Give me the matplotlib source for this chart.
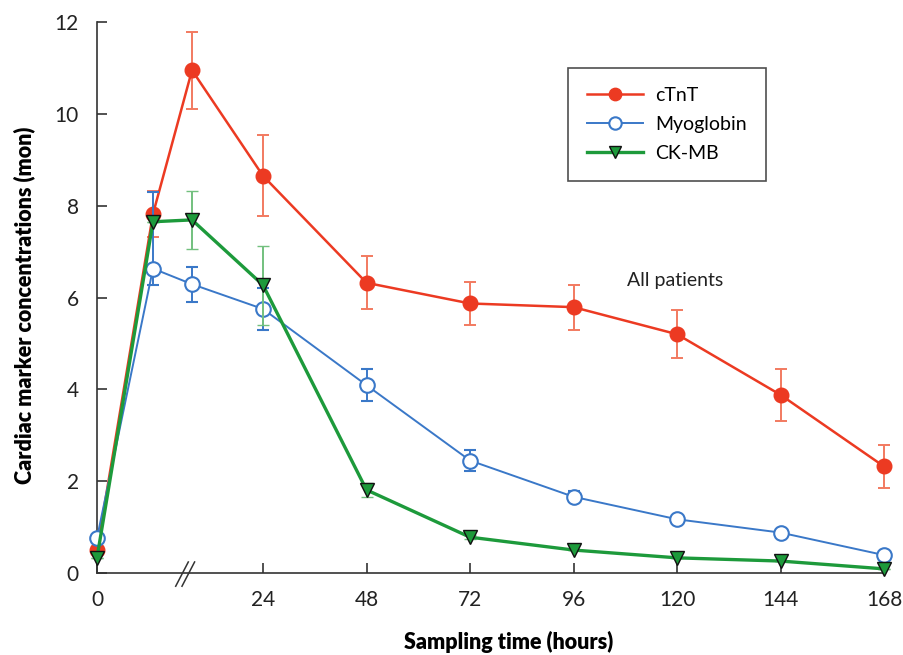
import matplotlib

matplotlib.use("Agg")

import matplotlib.pyplot as plt
import numpy as np

plt.rcParams["font.family"] = ["Lato", "DejaVu Sans"]

# sampling times (hours); 6 h and 12 h sit in the broken part of the axis
hours = [0, 6, 12, 24, 48, 72, 96, 120, 144, 168]
tick_hours = [0, 24, 48, 72, 96, 120, 144, 168]

ctnt = [0.50, 7.82, 10.95, 8.65, 6.32, 5.87, 5.79, 5.20, 3.88, 2.32]
ctnt_err = [0, 0.50, 0.84, 0.88, 0.58, 0.47, 0.49, 0.52, 0.56, 0.46]

myo = [0.76, 6.63, 6.29, 5.75, 4.09, 2.45, 1.66, 1.17, 0.88, 0.39]
myo_err_lo = [0, 0.36, 0.38, 0.46, 0.35, 0.23, 0.12, 0, 0, 0]
myo_err_hi = [0, 1.67, 0.38, 0.46, 0.35, 0.23, 0.12, 0, 0, 0]

ckmb = [0.33, 7.65, 7.69, 6.27, 1.81, 0.78, 0.50, 0.33, 0.26, 0.09]
ckmb_err = [0, 0, 0.63, 0.86, 0.15, 0.05, 0, 0, 0, 0]

# piecewise axis: early hours are stretched (axis is broken after 0)
knots_h = np.array([0, 6, 12, 24, 168], dtype=float)
knots_pos = np.array([0, 56, 95, 166, 787], dtype=float)


def fwd(x):
    return np.interp(x, knots_h, knots_pos, left=-1e3, right=1e4)


def inv(p):
    return np.interp(p, knots_pos, knots_h)


RED = "#ec3a22"
RED_ERR = "#f27a60"
BLUE = "#3a78c8"
GREEN = "#1d9a3b"
GREEN_ERR = "#72c07e"
AXC = "#333333"

fig = plt.figure(figsize=(9.04, 6.55), dpi=100)
ax = fig.add_axes([0.1073, 0.1252, 0.8706, 0.8412])
ax.set_xscale("function", functions=(fwd, inv))

c1 = ax.errorbar(hours, ctnt, yerr=ctnt_err, color=RED, ecolor=RED_ERR, lw=1.8,
                 elinewidth=1.4, capsize=4.5, capthick=1.4, marker="o", ms=10.5,
                 mfc=RED, mec=RED, label="cTnT", zorder=3, clip_on=False)
c2 = ax.errorbar(hours, myo, yerr=[myo_err_lo, myo_err_hi], color=BLUE, ecolor=BLUE,
                 lw=1.4, elinewidth=1.4, capsize=4.5, capthick=1.4, marker="o", ms=10.5,
                 mfc="white", mec=BLUE, mew=1.5, label="Myoglobin", zorder=4, clip_on=False)
c3 = ax.errorbar(hours, ckmb, yerr=ckmb_err, color=GREEN, ecolor=GREEN_ERR, lw=2.4,
                 elinewidth=1.4, capsize=4.5, capthick=1.4, marker="v", ms=10.5,
                 mfc=GREEN, mec="#111111", mew=1.0, label="CK-MB", zorder=5, clip_on=False)

ax.set_xlim(0, 168)
ax.set_ylim(0, 12)
ax.set_xticks(tick_hours)
ax.set_xticklabels([str(h) for h in tick_hours])
ax.set_yticks(range(0, 13, 2))
ax.minorticks_off()

for side in ("top", "right"):
    ax.spines[side].set_visible(False)
for side in ("left", "bottom"):
    ax.spines[side].set_color(AXC)
    ax.spines[side].set_linewidth(1.2)
ax.tick_params(axis="both", direction="in", length=7, width=1.2, color=AXC,
               labelsize=15, labelcolor="#222222")
ax.tick_params(axis="x", pad=12)
ax.tick_params(axis="y", pad=13)

# axis break mark
for off in (-0.004, 0.004):
    ax.plot([0.104 + off, 0.120 + off], [-0.024, 0.020], transform=ax.transAxes,
            color=AXC, lw=1.1, clip_on=False, zorder=6)

ax.set_xlabel("Sampling time (hours)", fontsize=15.5, fontweight="heavy")
ax.xaxis.set_label_coords(0.523, -0.105)
ax.set_ylabel("Cardiac marker concentrations (mon)", fontsize=15.5, fontweight="heavy")
ax.yaxis.set_label_coords(-0.078, 0.485)

ax.text(0.735, 0.53, "All patients", transform=ax.transAxes, fontsize=14,
        ha="center", va="center", color="#222222")

leg = ax.legend(handles=[c1[0], c2[0], c3[0]], labels=["cTnT", "Myoglobin", "CK-MB"],
                loc="upper left", bbox_to_anchor=(0.598, 0.917), fontsize=14,
                frameon=True, fancybox=False, edgecolor="#222222", borderpad=1.0,
                handlelength=2.9, handletextpad=0.6, labelspacing=0.6,
                borderaxespad=0, markerscale=0.85)
leg.get_frame().set_linewidth(1.2)

fig.savefig("out.png", dpi=100)
